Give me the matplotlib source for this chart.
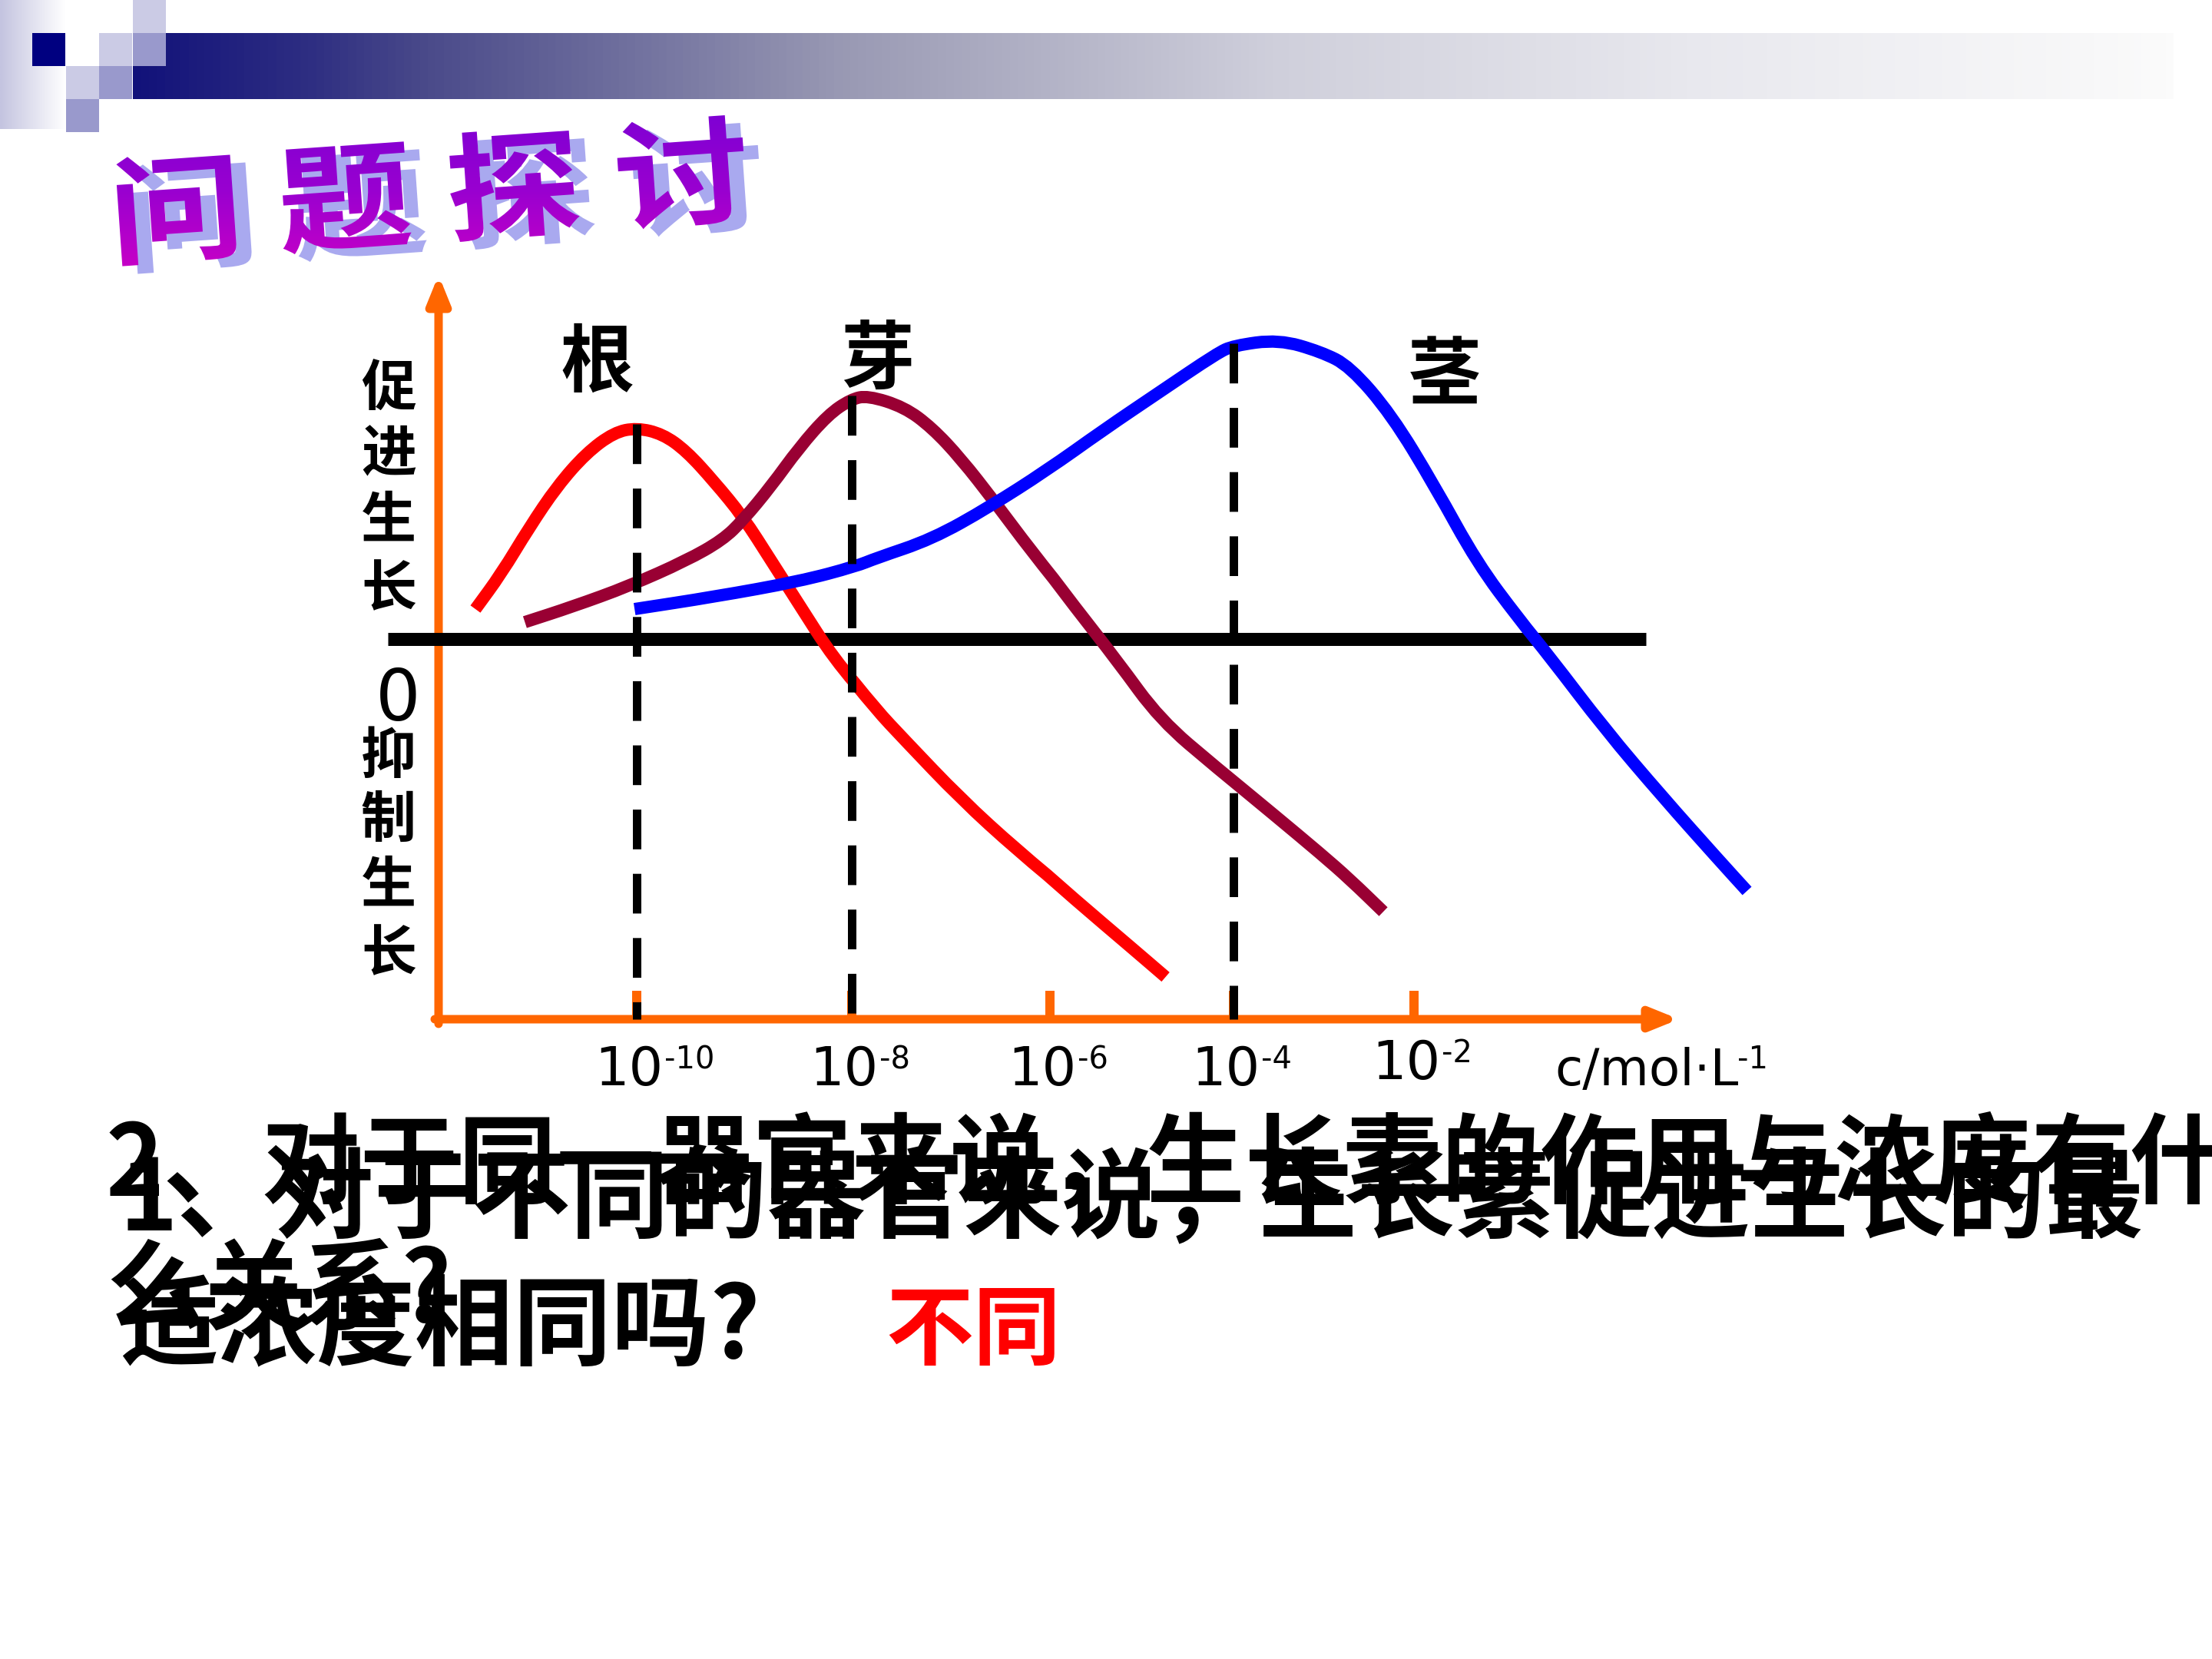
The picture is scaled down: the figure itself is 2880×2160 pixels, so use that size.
import numpy as np
import matplotlib
matplotlib.use('Agg')
import matplotlib.pyplot as plt
from matplotlib.colors import LinearSegmentedColormap
from matplotlib.textpath import TextPath
from matplotlib.font_manager import FontProperties
from matplotlib.patches import PathPatch, Rectangle, FancyArrowPatch
from matplotlib.path import Path
from matplotlib.transforms import Affine2D, offset_copy

plt.rcParams['font.family'] = ['Noto Sans CJK SC', 'DejaVu Sans']

# ---- data (x = log10 of concentration in mol/L, y = growth effect, >0 promote) ----
conc_ticks = [-10, -8, -6, -4, -2]
tick_exps = ['-10', '-8', '-6', '-4', '-2']

root_x = [-11.50, -11.26, -11.00, -10.74, -10.47, -10.21, -10.00, -9.76, -9.54, -9.28,
          -9.01, -8.75, -8.49, -8.17, -7.76, -7.47, -6.90, -6.33, -5.73, -5.11, -4.74]
root_y = [0.39, 0.85, 1.45, 1.99, 2.42, 2.69, 2.75, 2.67, 2.45, 2.05,
          1.59, 1.02, 0.45, -0.25, -0.91, -1.31, -2.08, -2.75, -3.39, -4.02, -4.40]

bud_x = [-11.04, -10.60, -10.07, -9.54, -9.20, -9.01, -8.75, -8.49, -8.22, -8.01, -7.84,
         -7.47, -7.19, -6.90, -6.56, -6.19, -5.73, -5.27, -4.80, -4.18, -3.56, -3.03,
         -2.71, -2.34]
bud_y = [0.22, 0.42, 0.69, 1.02, 1.29, 1.55, 1.99, 2.49, 2.92, 3.12, 3.17,
         3.02, 2.75, 2.35, 1.79, 1.15, 0.42, -0.28, -1.05, -1.68, -2.28, -2.80,
         -3.13, -3.55]

stem_x = [-10.02, -9.28, -8.49, -7.95, -7.76, -7.19, -6.61, -6.04, -5.42, -4.80, -4.18,
          -4.00, -3.50, -3.03, -2.71, -2.25, -1.77, -1.30, -0.83, -0.51, 0.12, 0.75,
          1.38, 1.69]
stem_y = [0.39, 0.55, 0.75, 0.95, 1.05, 1.30, 1.72, 2.19, 2.72, 3.22, 3.72,
          3.82, 3.90, 3.74, 3.55, 2.92, 1.99, 0.99, 0.25, -0.21, -1.18, -2.05,
          -2.88, -3.28]

organs = ['根', '芽', '茎']
optimum_x = [-10, -8, -4]
optimum_y = [2.80, 3.17, 3.85]

# ---- layout helpers (pixel positions of the hand-drawn ticks) ----
W, H = 2880, 2160
KX = np.array(conc_ticks, dtype=float)
KP = np.array([829, 1109, 1367, 1606, 1841], dtype=float)
ZERO_PX = 832.0
UNIT_PX = 100.0


def fwd(x):
    x = np.asarray(x, dtype=float)
    s0 = (KP[1] - KP[0]) / (KX[1] - KX[0])
    s1 = (KP[-1] - KP[-2]) / (KX[-1] - KX[-2])
    y = np.interp(x, KX, KP)
    y = np.where(x < KX[0], KP[0] + (x - KX[0]) * s0, y)
    y = np.where(x > KX[-1], KP[-1] + (x - KX[-1]) * s1, y)
    return y


def inv(p):
    p = np.asarray(p, dtype=float)
    s0 = (KP[1] - KP[0]) / (KX[1] - KX[0])
    s1 = (KP[-1] - KP[-2]) / (KX[-1] - KX[-2])
    x = np.interp(p, KP, KX)
    x = np.where(p < KP[0], KX[0] + (p - KP[0]) / s0, x)
    x = np.where(p > KP[-1], KX[-1] + (p - KP[-1]) / s1, x)
    return x


def smooth_path(xs, ys):
    # quadratic b-spline style path using the read points as control points
    pts = np.column_stack([xs, ys])
    mids = (pts[:-1] + pts[1:]) / 2
    verts = [pts[0], mids[0]]
    codes = [Path.MOVETO, Path.LINETO]
    for i in range(1, len(pts) - 1):
        verts += [pts[i], mids[i]]
        codes += [Path.CURVE3, Path.CURVE3]
    verts.append(pts[-1])
    codes.append(Path.LINETO)
    return Path(verts, codes)


fig = plt.figure(figsize=(W / 72, H / 72), dpi=72)
fig.patch.set_facecolor('white')

# ---- slide background: header decoration, title, questions ----
bg = fig.add_axes([0, 0, 1, 1])
bg.axis('off')

strip = LinearSegmentedColormap.from_list('strip', ['#c4c4e0', '#ffffff'])
bg.imshow(np.linspace(0, 1, 64)[None, :], cmap=strip, extent=(0, 86, 168, 0),
          aspect='auto', zorder=1)
barcmap = LinearSegmentedColormap.from_list(
    'bar', [(0.0, '#12127a'), (0.085, '#2e2e82'), (0.142, '#4a4a8a'), (0.35, '#9a9ab4'),
            (0.557, '#cfcfdb'), (0.764, '#e8e8ee'), (1.0, '#fbfbfb')])
bg.imshow(np.linspace(0, 1, 256)[None, :], cmap=barcmap, extent=(173, 2830, 129, 43),
          aspect='auto', zorder=1)
squares = [(173, 0, '#cbcbe5'), (42, 43, '#000080'), (129, 43, '#cbcbe5'),
           (173, 43, '#9999cc'), (86, 86, '#cbcbe5'), (129, 86, '#9999cc'),
           (86, 129, '#9999cc')]
for sx, sy, c in squares:
    bg.add_patch(Rectangle((sx, sy), 43, 43, facecolor=c, edgecolor='none', zorder=2))

# title word-art
fp = FontProperties(family='Noto Sans CJK SC', weight='bold')
parts = []
for i, ch in enumerate('问题探讨'):
    tp = TextPath((0, 0), ch, size=1, prop=fp)
    tr = Affine2D().scale(176, -152).translate(146 + 220 * i, 334)
    parts.append(tr.transform_path(tp))
title_path = Path.make_compound_path(*parts)
rot = Affine2D().rotate_deg_around(148, 343, -4.0)
title_path = rot.transform_path(title_path)
shadow = Affine2D().translate(20, 10).transform_path(title_path)
bg.add_patch(PathPatch(shadow, facecolor='#a9a9ef', edgecolor='none', zorder=3))
title_patch = PathPatch(title_path, facecolor='none', edgecolor='none', zorder=4)
bg.add_patch(title_patch)
purple = LinearSegmentedColormap.from_list('purple', ['#7a00d4', '#9a00d0', '#d000c4'])
im = bg.imshow(np.linspace(0, 1, 128)[:, None], cmap=purple, extent=(120, 1020, 370, 130),
               aspect='auto', zorder=4)
im.set_clip_path(title_patch)

# overlapping question texts
qkw = dict(fontsize=128, fontweight='bold', color='black', va='baseline', ha='left', zorder=5)
bg.text(138, 1556, '2、对于同一器官来说，生长素的作用与浓度有什', **qkw)
bg.text(138, 1721, '么关系?', **qkw)
bg.text(156, 1602, '1、对于不同的器官来说，生长素促进生长的最', **qkw)
bg.text(156, 1767, '适浓度相同吗?', **qkw)
bg.text(1153, 1768, '不同', fontsize=114, fontweight='bold', color='#ff0000',
        va='baseline', ha='left', zorder=5)

bg.set_xlim(0, W)
bg.set_ylim(H, 0)

# ---- chart ----
ax = fig.add_axes([0, 0, 1, 1], facecolor='none')
ax.set_xscale('function', functions=(fwd, inv))
ax.set_xlim(float(inv(0.0)), float(inv(W)))
ax.set_ylim(-(H - ZERO_PX) / UNIT_PX, ZERO_PX / UNIT_PX)
ax.axis('off')

orange = '#ff6600'
x_axis_y = -4.95
y_axis_x = float(inv(571))
x_end = float(inv(2186))
y_top = (ZERO_PX - 358) / UNIT_PX
astyle = '-|>,head_length=0.42,head_width=0.17'
ax.add_patch(FancyArrowPatch((y_axis_x, -5.01), (y_axis_x, y_top), arrowstyle=astyle,
                             mutation_scale=70, lw=11, color=orange, shrinkA=0, shrinkB=0,
                             zorder=1))
ax.add_patch(FancyArrowPatch((float(inv(566)), x_axis_y), (x_end, x_axis_y), arrowstyle=astyle,
                             mutation_scale=70, lw=11, color=orange, shrinkA=0, shrinkB=0,
                             zorder=1))
ax.vlines(conc_ticks, x_axis_y, x_axis_y + 0.37, color=orange, lw=12, zorder=1)

# zero line
ax.hlines(0, float(inv(505)), float(inv(2143)), color='black', lw=17, zorder=2)

for xs, ys, col, z in [(root_x, root_y, '#ff0000', 3), (bud_x, bud_y, '#990033', 3.1),
                       (stem_x, stem_y, '#0000ff', 3.2)]:
    ax.add_patch(PathPatch(smooth_path(xs, ys), facecolor='none', edgecolor=col, lw=16,
                           capstyle='butt', joinstyle='round', zorder=z))

for ox, oy in zip(optimum_x, optimum_y):
    ax.plot([ox, ox], [oy, x_axis_y], color='black', lw=11, linestyle=(0, (4.7, 2.9)),
            dash_capstyle='butt', zorder=4)

# organ labels
label_pos = [(-10.37, 3.58), (-7.74, 3.62), (-1.66, 3.40)]
for name, (lx, ly) in zip(organs, label_pos):
    ax.text(lx, ly, name, fontsize=96, fontweight='bold', ha='center', va='center', zorder=5)

# vertical axis captions
lab_x = float(inv(506))
for ch, yy in zip('促进生长', [3.24, 2.40, 1.53, 0.64]):
    ax.text(lab_x, yy, ch, fontsize=72, fontweight='bold', ha='center', va='center')
for ch, yy in zip('抑制生长', [-1.54, -2.37, -3.22, -4.11]):
    ax.text(lab_x, yy, ch, fontsize=72, fontweight='bold', ha='center', va='center')
ax.text(float(inv(518)), -0.80, '0', fontsize=92, family='DejaVu Sans',
        ha='center', va='center')

# tick labels: "10" plus a small raised exponent with a short hyphen
base_kw = dict(family='DejaVu Sans', va='baseline', zorder=5)
for tx, ex in zip(conc_ticks, tick_exps):
    base = -5.81 if tx != -2 else -5.73
    t_main = offset_copy(ax.transData, fig=fig, x=34, y=0, units='points')
    t_sup = offset_copy(ax.transData, fig=fig, x=36, y=22, units='points')
    ax.text(tx, base, '10', fontsize=70, ha='right', transform=t_main, **base_kw)
    ax.text(tx, base, ex, fontsize=40, ha='left', transform=t_sup, **base_kw)
unit_x = float(inv(2024))
ax.text(unit_x, -5.81, 'c/mol·L', fontsize=66, ha='left', **base_kw)
t_unit = offset_copy(ax.transData, fig=fig, x=238, y=22, units='points')
ax.text(unit_x, -5.81, '-1', fontsize=40, ha='left', transform=t_unit, **base_kw)

fig.savefig('out.png', dpi=72, facecolor='white')
